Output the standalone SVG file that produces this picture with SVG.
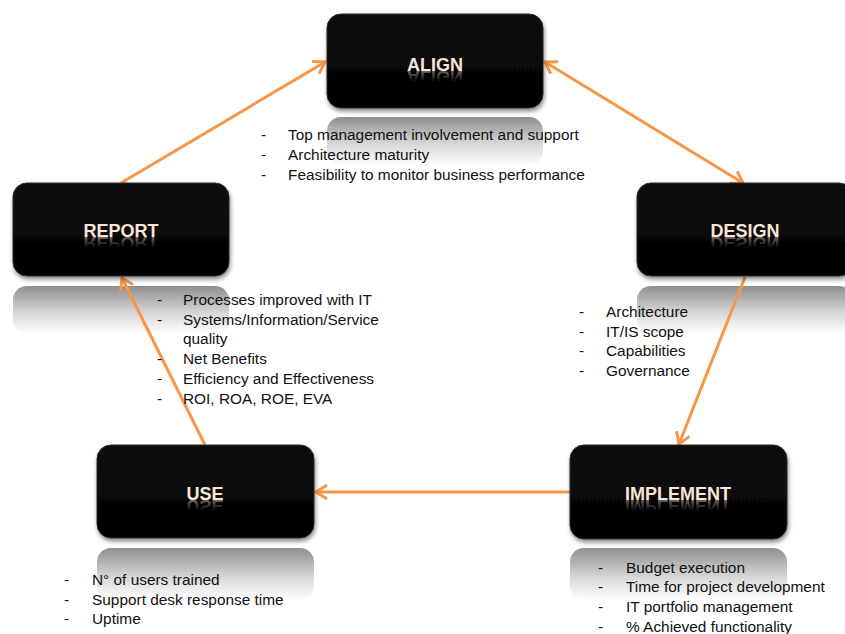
<svg xmlns="http://www.w3.org/2000/svg" xmlns:xlink="http://www.w3.org/1999/xlink" width="845" height="634" viewBox="0 0 845 634">
<style>
.box{fill:url(#boxg);stroke:#2a2a2a;stroke-width:1}
.lbl{font-family:"Liberation Sans",Arial,sans-serif;font-weight:bold;font-size:18px;fill:#fbe5d6;text-anchor:middle}
.rf{opacity:0.6}
.refl{fill:url(#rg)}
.txt{font-family:"Liberation Sans",Arial,sans-serif;font-size:15.4px;fill:#111}
.con{fill:none;stroke:#f79646;stroke-width:3;stroke-linecap:butt}
</style>
<defs>
<linearGradient id="boxg" x1="0" y1="0" x2="0" y2="1">
<stop offset="0" stop-color="#0d0d0d"/>
<stop offset="1" stop-color="#020202"/>
</linearGradient>
<linearGradient id="rg" x1="0" y1="0" x2="0" y2="1">
<stop offset="0" stop-color="#8f8f8f"/>
<stop offset="0.55" stop-color="#d6d6d6"/>
<stop offset="1" stop-color="#ffffff"/>
</linearGradient>
<linearGradient id="mg" x1="0" y1="0" x2="0" y2="1">
<stop offset="0" stop-color="#fff"/>
<stop offset="0.75" stop-color="#000"/>
</linearGradient>
<mask id="fade" maskContentUnits="objectBoundingBox">
<rect width="1" height="1" fill="url(#mg)"/>
</mask>
<filter id="sh" x="-10%" y="-10%" width="120%" height="130%">
<feDropShadow dx="1" dy="3" stdDeviation="2" flood-color="#000" flood-opacity="0.45"/>
</filter>
<marker id="ah" markerUnits="userSpaceOnUse" markerWidth="18" markerHeight="18" viewBox="0 0 18 18" refX="14" refY="9" orient="auto-start-reverse">
<path d="M3,2 L14,9 L3,16" fill="none" stroke="#f79646" stroke-width="3" stroke-linejoin="miter"/>
</marker>
</defs>
<rect width="845" height="634" fill="#ffffff"/>

<g id="reflections">
<rect class="refl" x="327" y="117" width="216" height="48" rx="14"/>
<rect class="refl" x="13" y="286" width="216" height="48" rx="14"/>
<rect class="refl" x="637" y="286" width="216" height="48" rx="14"/>
<rect class="refl" x="97" y="548" width="217" height="52" rx="14"/>
<rect class="refl" x="570" y="548" width="217" height="52" rx="14"/>
</g>

<g id="connectors">
<path class="con" d="M121,183 L325,62" marker-end="url(#ah)"/>
<path class="con" d="M545,62 L743,183" marker-start="url(#ah)" marker-end="url(#ah)"/>
<path class="con" d="M745,277 L679,444" marker-end="url(#ah)"/>
<path class="con" d="M570,492 L316,492" marker-end="url(#ah)"/>
<path class="con" d="M205,445 L122,278" marker-end="url(#ah)"/>
</g>

<g id="align">
<rect class="box" x="327" y="14" width="216" height="94" rx="14" filter="url(#sh)"/>
<text id="t-align" class="lbl" x="435" y="71">ALIGN</text>
<g class="rf" mask="url(#fade)"><use xlink:href="#t-align" href="#t-align" transform="translate(0,142) scale(1,-1)"/></g>
</g>
<g id="report">
<rect class="box" x="13" y="183" width="216" height="93" rx="14" filter="url(#sh)"/>
<text id="t-report" class="lbl" x="121" y="237">REPORT</text>
<g class="rf" mask="url(#fade)"><use xlink:href="#t-report" href="#t-report" transform="translate(0,474) scale(1,-1)"/></g>
</g>
<g id="design">
<rect class="box" x="637" y="183" width="216" height="93" rx="14" filter="url(#sh)"/>
<text id="t-design" class="lbl" x="745" y="237">DESIGN</text>
<g class="rf" mask="url(#fade)"><use xlink:href="#t-design" href="#t-design" transform="translate(0,474) scale(1,-1)"/></g>
</g>
<g id="use">
<rect class="box" x="97" y="445" width="217" height="93" rx="14" filter="url(#sh)"/>
<text id="t-use" class="lbl" x="205" y="500">USE</text>
<g class="rf" mask="url(#fade)"><use xlink:href="#t-use" href="#t-use" transform="translate(0,1000) scale(1,-1)"/></g>
</g>
<g id="implement">
<rect class="box" x="570" y="445" width="217" height="94" rx="14" filter="url(#sh)"/>
<text id="t-implement" class="lbl" x="678" y="500">IMPLEMENT</text>
<g class="rf" mask="url(#fade)"><use xlink:href="#t-implement" href="#t-implement" transform="translate(0,1000) scale(1,-1)"/></g>
</g>

<g id="align-list">
<text class="txt" x="261" y="140">-</text><text class="txt" x="288" y="140">Top management involvement and support</text>
<text class="txt" x="261" y="160">-</text><text class="txt" x="288" y="160">Architecture maturity</text>
<text class="txt" x="261" y="180">-</text><text class="txt" x="288" y="180">Feasibility to monitor business performance</text>
</g>
<g id="report-list">
<text class="txt" x="157" y="305">-</text><text class="txt" x="183" y="305">Processes improved with IT</text>
<text class="txt" x="157" y="325">-</text><text class="txt" x="183" y="325">Systems/Information/Service</text>
<text class="txt" x="183" y="344">quality</text>
<text class="txt" x="157" y="364">-</text><text class="txt" x="183" y="364">Net Benefits</text>
<text class="txt" x="157" y="384">-</text><text class="txt" x="183" y="384">Efficiency and Effectiveness</text>
<text class="txt" x="157" y="404">-</text><text class="txt" x="183" y="404">ROI, ROA, ROE, EVA</text>
</g>
<g id="design-list">
<text class="txt" x="579" y="317">-</text><text class="txt" x="606" y="317">Architecture</text>
<text class="txt" x="579" y="337">-</text><text class="txt" x="606" y="337">IT/IS scope</text>
<text class="txt" x="579" y="356">-</text><text class="txt" x="606" y="356">Capabilities</text>
<text class="txt" x="579" y="376">-</text><text class="txt" x="606" y="376">Governance</text>
</g>
<g id="use-list">
<text class="txt" x="64" y="585">-</text><text class="txt" x="92" y="585">N° of users trained</text>
<text class="txt" x="64" y="605">-</text><text class="txt" x="92" y="605">Support desk response time</text>
<text class="txt" x="64" y="624">-</text><text class="txt" x="92" y="624">Uptime</text>
</g>
<g id="implement-list">
<text class="txt" x="598" y="573">-</text><text class="txt" x="626" y="573">Budget execution</text>
<text class="txt" x="598" y="592">-</text><text class="txt" x="626" y="592">Time for project development</text>
<text class="txt" x="598" y="612">-</text><text class="txt" x="626" y="612">IT portfolio management</text>
<text class="txt" x="598" y="632">-</text><text class="txt" x="626" y="632">% Achieved functionality</text>
</g>
</svg>
